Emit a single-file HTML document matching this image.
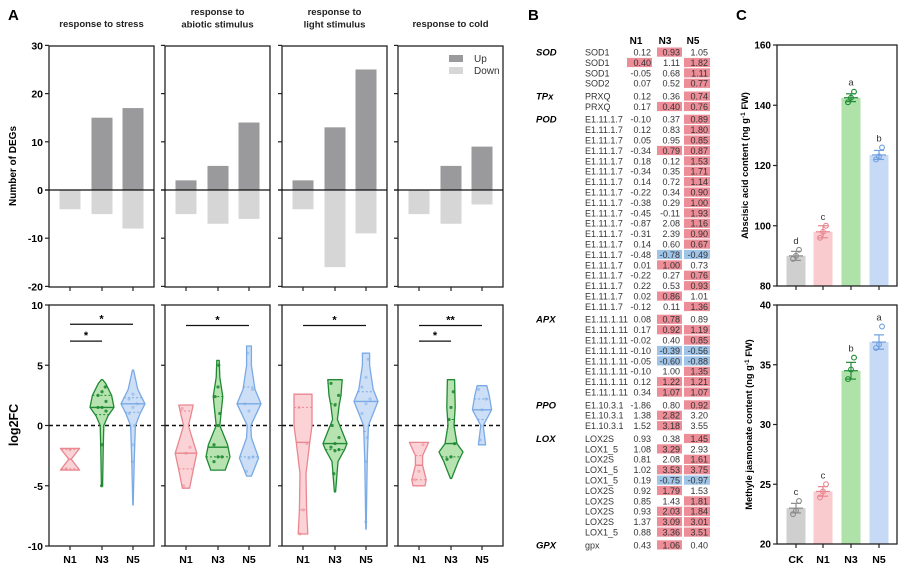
<!DOCTYPE html>
<html><head><meta charset="utf-8"><style>
body{margin:0;background:#fff;}
svg{display:block;font-family:"Liberation Sans",Arial,sans-serif;}
</style></head><body>
<svg id="fig" width="902" height="573" viewBox="0 0 902 573" xmlns="http://www.w3.org/2000/svg">
<g id="gA"></g>
<g id="gB"></g>
<g id="gC"></g>
</svg>
<script>
// ---------- Panel A data ----------
const panelTitles = [["response to stress"],["response to","abiotic stimulus"],["response to","light stimulus"],["response to cold"]];
const groups = ["N1","N3","N5"];
const upCounts = [[0,15,17],[2,5,14],[2,13,25],[0,5,9]];
const downCounts = [[-4,-5,-8],[-5,-7,-6],[-4,-16,-9],[-5,-7,-3]];
const degTicks = [30,20,10,0,-10,-20];
const fcTicks = [10,5,0,-5,-10];
// violin profiles: [value, relative density]
const violinProfiles = [
 [[[-3.7,0.8],[-2.8,0.1],[-1.9,0.8]],
  [[-5,0.05],[-2,0.1],[0,0.15],[0.8,0.5],[1.5,1.0],[2.5,0.8],[3.5,0.3],[3.8,0.05]],
  [[-6.6,0.02],[-3,0.1],[0,0.2],[1,0.6],[1.8,1.0],[3,0.4],[4.6,0.05]]],
 [[[-5.2,0.3],[-3.7,0.6],[-2.3,0.9],[-1,0.5],[0,0.2],[0.8,0.4],[1.7,0.6]],
  [[-3.7,0.6],[-2.6,1.0],[-1.6,0.8],[0,0.15],[2.4,0.4],[4,0.15],[5.4,0.1]],
  [[-4.2,0.2],[-2.7,0.8],[-1,0.2],[0,0.15],[1.8,1.0],[3,0.5],[5,0.2],[6.6,0.2]]],
 [[[-9,0.4],[-7,0.3],[-4,0.25],[-1.5,0.55],[0,0.75],[2.6,0.75]],
  [[-5.5,0.05],[-3,0.25],[-2,0.8],[-1.5,1.0],[-0.5,0.6],[0.5,0.2],[1.7,0.35],[2.5,0.5],[3.8,0.6]],
  [[-8.6,0.02],[-3,0.1],[0,0.2],[1.5,0.8],[2,1.0],[3,0.6],[5,0.3],[6,0.3]]],
 [[[-5,0.5],[-4.5,0.6],[-3.3,0.3],[-2.5,0.3],[-1.4,0.8]],
  [[-4.4,0.05],[-3,0.6],[-2.2,1.0],[-1.5,0.5],[0,0.25],[1.5,0.35],[3.8,0.3]],
  [[-1.6,0.3],[-0.8,0.2],[0,0.1],[1.3,0.8],[2.5,0.6],[3.3,0.4]]]
];
const violinMedians = [[-2.8,1.5,1.8],[-2.3,-1.8,1.8],[-1.4,-1.5,2.0],[-3.3,-1.5,1.3]];
const violinQuartiles = [[[-3.6,-2.0],[0.9,2.5],[1.1,2.3]],[[-3.6,1.2],[-2.6,2.4],[-2.6,3.2]],[[-7,1.5],[-2.0,1.8],[-0.5,2.8]],[[-4.5,-2.5],[-2.6,0.5],[0.5,2.2]]];
const violinPoints = [
 [[-3.6,-2.0],[-5,-1.6,1.2,1.5,1.5,2.0,2.5,2.8,3.2],[-3,-1.6,0,1,1.5,1.8,2.2,2.6]],
 [[-5,-2.3,-1.8,1.4],[-3,-2.6,-2.6,-1.6,0,1,2.4,3.2,5],[-3.8,-2.7,-2.6,1.8,1.2,3,6]],
 [[-9,-7,-1.5,1.5],[-4,-2.1,-2,-1.8,-1.5,-1,0,1.7,2.5,3.5],[-8,-3,-1,1,1.8,2.2,3.2,4,5.5]],
 [[-4.5,-3.8,-1.6],[-2.8,-2.6,-1.5,0.5,1.5,2.8],[-1.2,1.3,2.2,3]]
];
// significance: [panel, from group, to group, y value, label]
const sigPanel = [0,0,1,2,3,3];
const sigFrom = [0,0,0,0,0,0];
const sigTo = [2,1,2,2,2,1];
const sigY = [8.4,7,8.3,8.3,8.3,7];
const sigLabel = ["*","*","*","*","**","*"];

// ---------- Panel B data ----------
const geneGroups = ["SOD","TPx","POD","APX","PPO","LOX","GPX"];
const groupSizes = [4,2,19,8,3,10,1];
const geneNames = ["SOD1","SOD1","SOD1","SOD2","PRXQ","PRXQ",
 "E1.11.1.7","E1.11.1.7","E1.11.1.7","E1.11.1.7","E1.11.1.7","E1.11.1.7","E1.11.1.7","E1.11.1.7","E1.11.1.7","E1.11.1.7","E1.11.1.7","E1.11.1.7","E1.11.1.7","E1.11.1.7","E1.11.1.7","E1.11.1.7","E1.11.1.7","E1.11.1.7","E1.11.1.7",
 "E1.11.1.11","E1.11.1.11","E1.11.1.11","E1.11.1.11","E1.11.1.11","E1.11.1.11","E1.11.1.11","E1.11.1.11",
 "E1.10.3.1","E1.10.3.1","E1.10.3.1",
 "LOX2S","LOX1_5","LOX2S","LOX1_5","LOX1_5","LOX2S","LOX2S","LOX2S","LOX2S","LOX1_5","gpx"];
const valN1 = [0.12,0.40,-0.05,0.07,0.12,0.17,-0.10,0.12,0.05,-0.34,0.18,-0.34,0.14,-0.22,-0.38,-0.45,-0.87,-0.31,0.14,-0.48,0.01,-0.22,0.22,0.02,-0.12,0.08,0.17,-0.02,-0.10,-0.05,-0.10,0.12,0.34,-1.86,1.38,1.52,0.93,1.08,0.81,1.02,0.19,0.92,0.85,0.93,1.37,0.88,0.43];
const valN3 = [0.93,1.11,0.68,0.52,0.36,0.40,0.37,0.83,0.95,0.79,0.12,0.35,0.72,0.34,0.29,-0.11,2.08,2.39,0.60,-0.78,1.00,0.27,0.53,0.86,0.11,0.78,0.92,0.40,-0.39,-0.60,1.00,1.22,1.07,0.80,2.82,3.18,0.38,3.29,2.08,3.53,-0.75,1.79,1.43,2.03,3.09,3.36,1.06];
const valN5 = [1.05,1.82,1.11,0.77,0.74,0.76,0.89,1.80,0.85,0.87,1.53,1.71,1.14,0.90,1.00,1.93,1.16,0.90,0.67,-0.49,0.73,0.76,0.93,1.01,1.36,0.89,1.19,0.85,-0.56,-0.88,1.35,1.21,1.07,0.92,3.20,3.55,1.45,2.93,1.61,3.75,-0.97,1.53,1.81,1.84,3.01,3.51,0.40];
// significance flags: 1 up (red), -1 down (blue), 0 none
const sigN1 = [0,1,0,0,0,0, 0,0,0,0,0,0,0,0,0,0,0,0,0,0,0,0,0,0,0, 0,0,0,0,0,0,0,0, 0,0,0, 0,0,0,0,0,0,0,0,0,0, 0];
const sigN3 = [1,0,0,0,0,1, 0,0,0,1,0,0,0,0,0,0,0,0,0,-1,1,0,0,1,0, 1,1,0,-1,-1,0,1,1, 0,1,1, 0,1,0,1,-1,1,0,1,1,1, 1];
const sigN5 = [0,1,1,1,1,1, 1,1,1,1,1,1,1,1,1,1,1,1,1,-1,0,1,1,0,1, 0,1,1,-1,-1,1,1,1, 1,0,0, 1,0,1,1,-1,0,1,1,1,1, 0];

// ---------- Panel C data ----------
const cCats = ["CK","N1","N3","N5"];
const abaMean = [90,98,142.5,123.5];
const abaErr = [1.5,2,1.3,1.5];
const abaPts = [[89,90,92],[96,98,100],[141,142.5,144.5],[122,123,126]];
const abaLetters = ["d","c","a","b"];
const abaTicks = [160,140,120,100,80];
const mejaMean = [23,24.4,34.5,36.9];
const mejaErr = [0.4,0.4,0.7,0.6];
const mejaPts = [[22.5,22.8,23.6],[23.9,24.4,25],[33.8,34.6,35.6],[36.4,36.7,38.2]];
const mejaLetters = ["c","c","b","a"];
const mejaTicks = [40,35,30,25,20];

const NS="http://www.w3.org/2000/svg";
function mk(parent, tag, attrs, text){
  const e=document.createElementNS(NS,tag);
  for(const k in attrs) e.setAttribute(k,attrs[k]);
  if(text!==undefined) e.textContent=text;
  parent.appendChild(e); return e;
}
const strokeCols=["#e98690","#1f8a33","#79aae6"];
const fillCols=["#fbd3d7","#b6e3b0","#cddff6"];

// ---------- Draw Panel A ----------
const gA=document.getElementById('gA');
let t=mk(gA,'text',{x:8,y:20,'font-size':15,'font-weight':'bold'},'A');


const panelX=[49,165,282,398], panelW=105;
const groupOff=[21,53,84];
const yDeg=v=>190-(v)*4.82;
const yFC=v=>425.5-v*12.05;
for(let p=0;p<4;p++){
  const x0=panelX[p];
  const pg=mk(gA,'g',{});
  
  
  const lines=panelTitles[p];
  lines.forEach((ln,i)=>{
    const ty = lines.length===1 ? 27 : 15+i*12.5;
    const tt=mk(pg,'text',{x:x0+panelW/2,y:ty,'font-size':9.5,'font-weight':'bold','text-anchor':'middle',fill:'#222'},ln);
    
    
  });
  const fr=mk(pg,'rect',{x:x0,y:46,width:panelW,height:241,fill:'none',stroke:'#222','stroke-width':1.3});
  
  
  degTicks.forEach(v=>{
    mk(pg,'line',{x1:x0-4,x2:x0,y1:yDeg(v),y2:yDeg(v),stroke:'#222','stroke-width':1.2});
    if(p===0){const tl=mk(pg,'text',{x:x0-6,y:yDeg(v)+4,'font-size':10.5,'font-weight':'bold','text-anchor':'end'},v);
      
      }
  });
  for(let g=0;g<3;g++){
    const cx=x0+groupOff[g];
    mk(pg,'line',{x1:cx,x2:cx,y1:287,y2:291,stroke:'#222','stroke-width':1.2});
    if(upCounts[p][g]>0){
      const b=mk(pg,'rect',{x:cx-10.5,y:yDeg(upCounts[p][g]),width:21,height:yDeg(0)-yDeg(upCounts[p][g]),fill:'#9a9a9c'});
      
      
    }
    const bd=mk(pg,'rect',{x:cx-10.5,y:yDeg(0),width:21,height:yDeg(downCounts[p][g])-yDeg(0),fill:'#d6d6d6'});
    
    
  }
  mk(pg,'line',{x1:x0-4,x2:x0+panelW,y1:yDeg(0),y2:yDeg(0),stroke:'#111','stroke-width':1.3});
  const fr2=mk(pg,'rect',{x:x0,y:305,width:panelW,height:241,fill:'none',stroke:'#222','stroke-width':1.3});
  
  
  fcTicks.forEach(v=>{
    mk(pg,'line',{x1:x0-4,x2:x0,y1:yFC(v),y2:yFC(v),stroke:'#222','stroke-width':1.2});
    if(p===0){const tl=mk(pg,'text',{x:x0-6,y:yFC(v)+4,'font-size':10.5,'font-weight':'bold','text-anchor':'end'},v);
      
      }
  });
  mk(pg,'line',{x1:x0,x2:x0+panelW,y1:yFC(0),y2:yFC(0),stroke:'#111','stroke-width':1.4,'stroke-dasharray':'4,3'});
  for(let g=0;g<3;g++){
    const cx=x0+groupOff[g];
    mk(pg,'line',{x1:cx,x2:cx,y1:546,y2:550,stroke:'#222','stroke-width':1.2});
    const xl=mk(pg,'text',{x:cx,y:563,'font-size':10.5,'font-weight':'bold','text-anchor':'middle'},groups[g]);
    
    
    const prof=violinProfiles[p][g];
    const hw=12;
    let d='';
    prof.forEach((pt,i)=>{d+=(i?'L':'M')+(cx+pt[1]*hw).toFixed(1)+','+yFC(pt[0]).toFixed(1);});
    for(let i=prof.length-1;i>=0;i--){d+='L'+(cx-prof[i][1]*hw).toFixed(1)+','+yFC(prof[i][0]).toFixed(1);}
    d+='Z';
    const vp=mk(pg,'path',{d:d,fill:fillCols[g],stroke:strokeCols[g],'stroke-width':1.3,'stroke-linejoin':'round'});
    
    
    function widthAt(v){
      for(let i=0;i<prof.length-1;i++){if(v>=prof[i][0]&&v<=prof[i+1][0]){const f=(v-prof[i][0])/(prof[i+1][0]-prof[i][0]);return (prof[i][1]+f*(prof[i+1][1]-prof[i][1]))*hw;}}
      return 2;
    }
    const m=violinMedians[p][g], wm=widthAt(m);
    mk(pg,'line',{x1:cx-wm,x2:cx+wm,y1:yFC(m),y2:yFC(m),stroke:strokeCols[g],'stroke-width':1.4});
    violinQuartiles[p][g].forEach(q=>{const wq=widthAt(q);mk(pg,'line',{x1:cx-wq,x2:cx+wq,y1:yFC(q),y2:yFC(q),stroke:strokeCols[g],'stroke-width':1,'stroke-dasharray':'2,2'});});
    violinPoints[p][g].forEach((v,i)=>{
      const off=((i%3)-1)*Math.min(4,widthAt(v)*0.6);
      const c=mk(pg,'circle',{cx:cx+off,cy:yFC(v),r:1.6,fill:strokeCols[g],opacity:g===1?0.9:0.5});
      
      
    });
  }
}
for(let s=0;s<sigPanel.length;s++){
  const x0=panelX[sigPanel[s]];
  const xa=x0+groupOff[sigFrom[s]], xb=x0+groupOff[sigTo[s]];
  const ln=mk(gA,'line',{x1:xa,x2:xb,y1:yFC(sigY[s]),y2:yFC(sigY[s]),stroke:'#111','stroke-width':1.3});
  
  
  const st=mk(gA,'text',{x:(xa+xb)/2,y:yFC(sigY[s])-2,'font-size':11,'font-weight':'bold','text-anchor':'middle'},sigLabel[s]);
  
  
}
t=mk(gA,'text',{transform:'translate(16,166) rotate(-90)','font-size':10,'font-weight':'bold','text-anchor':'middle'},'Number of DEGs');


t=mk(gA,'text',{transform:'translate(18,425) rotate(-90)','font-size':12.5,'font-weight':'bold','text-anchor':'middle'},'log2FC');


const lg=mk(gA,'g',{});


mk(lg,'rect',{x:449,y:55,width:14,height:7,fill:'#9a9a9c'});
let lt=mk(lg,'text',{x:474,y:62,'font-size':10,fill:'#333'},'Up');


mk(lg,'rect',{x:449,y:67,width:14,height:7,fill:'#d6d6d6'});
lt=mk(lg,'text',{x:474,y:74,'font-size':10,fill:'#333'},'Down');



// ---------- Draw Panel B ----------
const gB=document.getElementById('gB');
t=mk(gB,'text',{x:528,y:20,'font-size':15,'font-weight':'bold'},'B');


const colHeads=["N1","N3","N5"], colRight=[651,680,708], cellL=[627,657,684], cellW=[25,25,26];
colHeads.forEach((h,i)=>{
  const ht=mk(gB,'text',{x:[636,665,693][i],y:44,'font-size':10,'font-weight':'bold','text-anchor':'middle'},h);
  
  
});
let row=0;
const cols=[valN1,valN3,valN5], sigs=[sigN1,sigN3,sigN5];
geneGroups.forEach((gname,gi)=>{
  for(let k=0;k<groupSizes[gi];k++){
    const y=52+row*10.4+gi*2.4;
    if(k===0){const gl=mk(gB,'text',{x:536,y:y+3.5,'font-size':9.5,'font-weight':'bold','font-style':'italic'},gname);
      
      }
    const nm=geneNames[row];
    const na={x:585,y:y+3.5,'font-size':9,fill:'#333'};
    if(nm.length>=10){na.textLength=43;na.lengthAdjust='spacingAndGlyphs';}
    const nl=mk(gB,'text',na,nm);
    
    
    for(let c=0;c<3;c++){
      const s=sigs[c][row];
      if(s!==0){
        const r=mk(gB,'rect',{x:cellL[c],y:y-4.5,width:cellW[c],height:9.2,fill:s>0?'#ed8d98':'#9fc4e8'});
        
        
      }
      const vt=mk(gB,'text',{x:colRight[c],y:y+3.5,'font-size':9,'text-anchor':'end',fill:'#333'},cols[c][row].toFixed(2));
      
      
    }
    row++;
  }
});

// ---------- Draw Panel C ----------
const gC=document.getElementById('gC');
t=mk(gC,'text',{x:736,y:20,'font-size':15,'font-weight':'bold'},'C');


const cX=[796,823,851,879];
const cFill=["#cfcfcf","#f9cbcf","#aee2a9","#c6daf6"];
const cStroke=["#8c8c8c","#e98690","#1f8a33","#6f9fe0"];
function barChart(y0,y1,vmin,vmax,ticks,means,errs,pts,letters,title,name,showX){
  const g=mk(gC,'g',{});
  
  
  const ys=v=>y1-(v-vmin)/(vmax-vmin)*(y1-y0);
  means.forEach((m,i)=>{
    const b=mk(g,'rect',{x:cX[i]-9.5,y:ys(m),width:19,height:y1-ys(m),fill:cFill[i]});
    
    
    const e=errs[i];
    mk(g,'line',{x1:cX[i],x2:cX[i],y1:ys(m+e),y2:ys(m-e),stroke:cStroke[i],'stroke-width':1.2});
    mk(g,'line',{x1:cX[i]-5,x2:cX[i]+5,y1:ys(m+e),y2:ys(m+e),stroke:cStroke[i],'stroke-width':1.2});
    mk(g,'line',{x1:cX[i]-5,x2:cX[i]+5,y1:ys(m-e),y2:ys(m-e),stroke:cStroke[i],'stroke-width':1.2});
    mk(g,'line',{x1:cX[i]-7,x2:cX[i]+7,y1:ys(m),y2:ys(m),stroke:cStroke[i],'stroke-width':1.2});
    pts[i].forEach((v,j)=>{
      const c=mk(g,'circle',{cx:cX[i]+[-3,0,3][j],cy:ys(v),r:2.4,fill:'none',stroke:cStroke[i],'stroke-width':1.1});
      
      
    });
    const top=Math.max(...pts[i].map(ys).map(yy=>-yy));
    const lt=mk(g,'text',{x:cX[i],y:Math.min(ys(m+errs[i]),-top)-6,'font-size':9.5,'text-anchor':'middle',fill:'#333'},letters[i]);
    
    
    mk(g,'line',{x1:cX[i],x2:cX[i],y1:y1,y2:y1+4,stroke:'#222','stroke-width':1.2});
    if(showX){const xl=mk(g,'text',{x:cX[i],y:563,'font-size':10.5,'font-weight':'bold','text-anchor':'middle'},cCats[i]);
      
      }
  });
  const fr=mk(g,'rect',{x:777,y:y0,width:120,height:y1-y0,fill:'none',stroke:'#222','stroke-width':1.3});
  
  
  ticks.forEach(v=>{
    mk(g,'line',{x1:773,x2:777,y1:ys(v),y2:ys(v),stroke:'#222','stroke-width':1.2});
    const tl=mk(g,'text',{x:771,y:ys(v)+3.5,'font-size':10,'font-weight':'bold','text-anchor':'end'},v);
    
    
  });
  const tt=mk(g,'text',{transform:'translate('+(title.x)+','+((y0+y1)/2)+') rotate(-90)','font-size':9.3,'font-weight':'bold','text-anchor':'middle'});
  
  
  mk(tt,'tspan',{},title.a);
  mk(tt,'tspan',{'baseline-shift':'super','font-size':6.5},'-1');
  mk(tt,'tspan',{},' FW)');
}
barChart(45,286,80,160,abaTicks,abaMean,abaErr,abaPts,abaLetters,{x:748,a:'Abscisic acid content (ng g'},'aba-chart',false);
barChart(305,544,20,40,mejaTicks,mejaMean,mejaErr,mejaPts,mejaLetters,{x:752,a:'Methyle jasmonate content (ng g'},'meja-chart',true);
</script>
</body></html>
